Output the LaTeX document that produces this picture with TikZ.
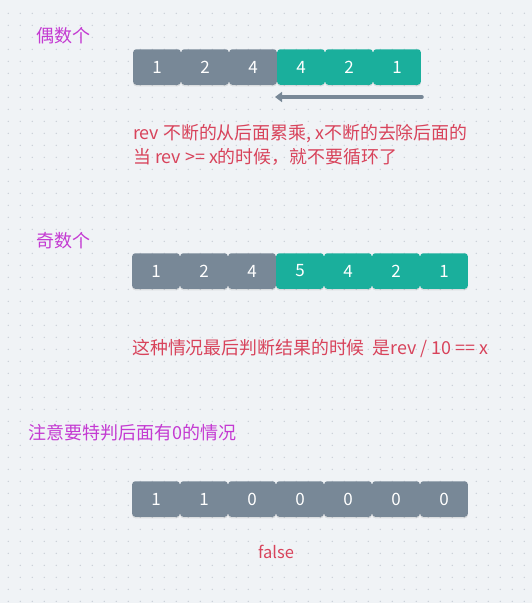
\documentclass[tikz,border=0pt]{standalone}
\usepackage{fontspec}
\setmainfont{Noto Sans CJK SC}
\usetikzlibrary{shadows,arrows.meta}
\definecolor{bgc}{HTML}{F0F3F6}
\definecolor{dotc}{HTML}{C9CFD7}
\definecolor{grayc}{HTML}{788897}
\definecolor{tealc}{HTML}{1AAF9C}
\definecolor{redc}{HTML}{D8435B}
\definecolor{purc}{HTML}{C43AD2}
\tikzset{
  cell/.style={rectangle, rounded corners=3pt, minimum width=47.6pt, minimum height=35.5pt,
    inner sep=0pt, text=white, font=\fontsize{17}{17}\selectfont,
    drop shadow={opacity=0.18, shadow xshift=0pt, shadow yshift=-1.5pt}},
  gcell/.style={cell, fill=grayc},
  tcell/.style={cell, fill=tealc},
  rtext/.style={anchor=west, inner sep=0pt, text=redc, font=\fontsize{17.9}{24}\selectfont, align=left},
  ptext/.style={anchor=west, inner sep=0pt, text=purc, font=\fontsize{18}{18}\selectfont},
}
\begin{document}
\begin{tikzpicture}[x=1pt,y=-1pt]
\fill[bgc] (0,0) rectangle (532,603);
\useasboundingbox (0,0) rectangle (532,603);
\foreach \i in {0,...,43}{
  \foreach \j in {0,...,49}{
    \fill[dotc] (8.3+12*\i,13.3+12*\j) circle (0.75pt);
  }
}
% labels
\node[ptext] (even) at (36,36) {偶数个};
\node[ptext] (odd) at (36,241) {奇数个};
\node[ptext] (note) at (28,433) {注意要特判后面有0的情况};
% row 1
\foreach \v [count=\k] in {1,2,4}{
  \node[gcell] (a\k) at (133+24+48*\k-48,67) {\v};
}
\foreach \v [count=\k from 4] in {4,2,1}{
  \node[tcell] (a\k) at (133+24+48*\k-48,67) {\v};
}
\coordinate (arrS) at (422,97);
\coordinate (arrE) at (275,97);
\draw[grayc, line width=3.5pt, line cap=round, -{Triangle[length=7pt,width=10pt]}] (arrS) -- (arrE);
\node[rtext] (t1) at (133,145) {rev 不断的从后面累乘, x不断的去除后面的\\当 rev >= x的时候，就不要循环了};
% row 2
\foreach \v [count=\k] in {1,2,4}{
  \node[gcell] (b\k) at (132+24+48*\k-48,271) {\v};
}
\foreach \v [count=\k from 4] in {5,4,2,1}{
  \node[tcell] (b\k) at (132+24+48*\k-48,271) {\v};
}
\node[rtext] (t2) at (132,349) {这种情况最后判断结果的时候\ \ 是rev / 10 == x};
% row 3
\foreach \v [count=\k] in {1,1,0,0,0,0,0}{
  \node[gcell] (c\k) at (132+24+48*\k-48,499) {\v};
}
\node[text=redc, inner sep=0pt, font=\fontsize{16.5}{16.5}\selectfont] (f) at (276,552) {false};
\end{tikzpicture}
\end{document}
